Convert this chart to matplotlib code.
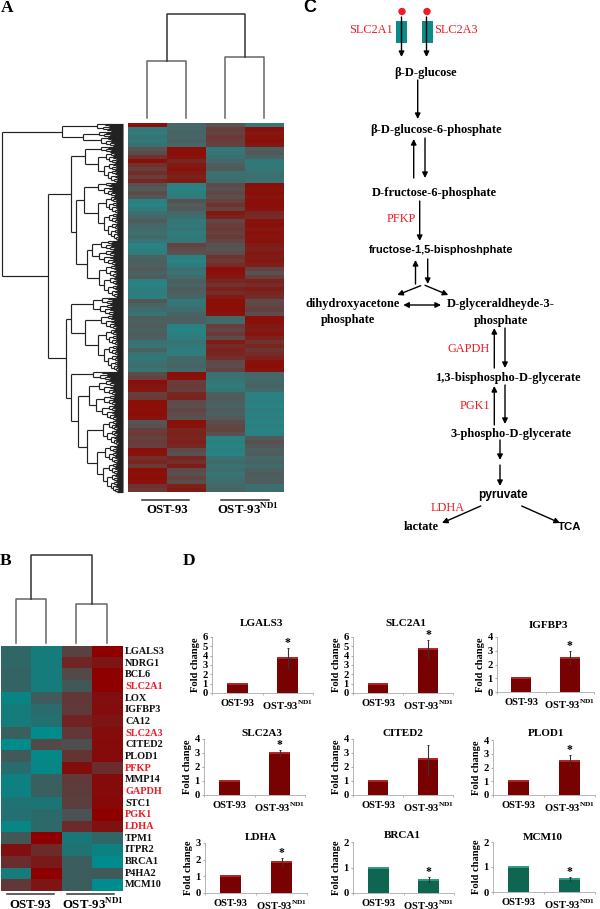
import numpy as np
import matplotlib
matplotlib.use("Agg")
import matplotlib.pyplot as plt
from matplotlib.collections import LineCollection
from matplotlib.colors import LinearSegmentedColormap
from matplotlib.patches import Rectangle, Circle

plt.rcParams["font.family"] = ["Liberation Serif", "DejaVu Sans"]
plt.rcParams["mathtext.fontset"] = "custom"
plt.rcParams["mathtext.bf"] = "Liberation Serif:bold"
plt.rcParams["mathtext.rm"] = "Liberation Serif:bold"

W, H = 600, 909
ND1 = "OST-93$^{\\mathbf{ND1}}$"

# panel A heatmap, one row per 4 px band, four samples
heat_a = [
    [3, -1, 0, -2], [-2, -1, 1, 3], [-2.2, -.8, .8, 2.6], [-1.8, -1, 1.2, 2.8],
    [-2, -.6, 1, 3], [-1.5, -1, .8, 2.5], [0, 3, -2, -.5], [.5, 3, -1.8, -.2],
    [1.5, 2.8, -1.5, -.8], [3, 2, -1, -2], [1.5, 2.5, -.5, -2], [1, 2.8, -.2, -2],
    [1.8, 2.5, -1.5, -1.6], [1, 2.2, -1.5, -1.5], [2, 2.5, -1.2, -1.8], [.2, -2.5, .5, 3],
    [-.2, -2.6, .2, 2.8], [.5, -2.4, .6, 3], [0, -2.2, .3, 2.7], [-2.5, .2, .8, 3],
    [-2.6, -.4, 1.5, 3], [-2.2, -.2, .8, 2.8], [-1.5, -1, 2.6, 2], [-1, -1.4, 2.2, 1.8],
    [-.3, -2, .6, 2.8], [-1, -2, 1, 3], [-1.2, -1.8, 1.2, 2.6], [-1.5, -2.2, .8, 2.9],
    [-1, -2, 1.2, 2.7], [-1.8, -1.9, .6, 2.8], [-2.6, .8, .2, 2.5], [-2.5, .4, 0, 2.2],
    [-2.2, .2, .4, 2.6], [-.8, -2.5, 1.5, 2.4], [-.4, -2.7, 1.2, 2.6], [-.6, -2.3, 1.8, 2.3],
    [-.2, -1.5, 3, .8], [-.8, -1.7, 2.9, .2], [-.3, -1.2, 2.6, .9], [-2.5, -.5, 2, 2.2],
    [-2.6, -.8, 1.5, 1.8], [-2.4, -.3, 2.2, 2.4], [-2.3, -.6, 1.8, 2], [-2.4, -.9, 2.5, 1.8],
    [0, -2, 3, .5], [-.8, -1.8, 3, .6], [-1.2, -1.3, 3, .9], [-1.8, -.8, 2.8, .4],
    [-.4, -.5, -1, 3], [-.6, -.6, -1.2, 2.9], [-.3, -2.5, 1, 2.6], [-.7, -2.7, .6, 2.4],
    [-.4, -2.5, 1.2, 2.8], [-.6, -2.2, .5, 2.2], [-1.5, -1.8, 2.4, 1.5], [-1.8, -2, 1.8, 2],
    [-.6, -2.3, 2.2, 1.4], [-1.6, -2.2, 2, 1.8], [-2, -1, 1.6, 2.2], [-1.6, -1.1, .5, 2.9],
    [-1.4, -.8, .4, 3], [-1.8, -1.2, .8, 2.8], [.5, 3, -1.5, -1], [.8, 2.9, -1.6, -1.2],
    [3, 1, -2, -1], [2.7, 1.2, -2.2, -.8], [2.6, 1, -1.8, -1.2], [1, 2, -.5, -2.5],
    [1.2, 2.1, -.3, -2.5], [3, .5, -.5, -2.4], [3, .3, -.8, -2.6], [2.9, .7, -.3, -2.3],
    [3, .4, -.6, -2.5], [2.8, .2, -.2, -2.4], [0, 3, .4, -2.6], [.2, 2.8, .6, -2.4],
    [1, 2, .8, -2.6], [1.2, 2.2, .2, -2.5], [.8, 2, -2.6, -.2], [1.1, 2.3, -2.4, .3],
    [.9, 1.9, -2.7, -.1], [3, .5, -2.4, -.6], [2.8, .2, -2.6, -.4], [1.6, 2, -1.6, -1],
    [2, 1.6, -1.2, -.8], [1.2, 2.4, -1.6, -1.2], [3, .5, -1.4, -.6], [2.9, .3, -1.8, -.3],
    [3, .7, -1.5, -.5], [2.8, .4, -1.3, -.4], [1.5, 2.2, -1, -1.5], [1.2, 2.6, -.8, -1.4],
]

# panel B heatmap
genes_b = ["LGALS3", "NDRG1", "BCL6", "SLC2A1", "LOX", "IGFBP3", "CA12", "SLC2A3",
           "CITED2", "PLOD1", "PFKP", "MMP14", "GAPDH", "STC1", "PGK1", "LDHA",
           "TPM1", "ITPR2", "BRCA1", "P4HA2", "MCM10"]
red_genes = ["SLC2A1", "SLC2A3", "PFKP", "GAPDH", "PGK1", "LDHA"]
heat_b = [
    [-1.2, -2.2, .5, 3], [-1.2, -2.2, 1.6, 2.2], [-1, -2.2, .2, 3], [-1, -2.2, -.4, 3],
    [-2.6, -.6, .9, 2.4], [-2.2, -1.4, .8, 2.5], [-2.2, -1.6, 1.7, 2.2], [-.8, -3, .9, 2.5],
    [-3, .2, 0, 2.6], [-.5, -2.8, 1, 2.6], [-1.5, -2.7, 2.5, 1.3], [-2.5, -.8, .8, 2.6],
    [-2.5, -.8, .7, 2.6], [-1.8, -1.9, .6, 2.7], [-1.6, -1.3, -.2, 3], [-2.7, -1.3, 1.4, 2.3],
    [-.4, 3, -2, -1.2], [2.4, 1.4, -1.8, -2.5], [1.3, 2, -.7, -3], [-2.2, 3, -.7, -.5],
    [.9, 2.2, -.7, -3],
]

# column dendrogram heights: left merge, right merge, root
col_tree_a = [57, 61, 104]
col_tree_b = [44, 39, 88]

# row dendrogram of panel A as (height, child, child); (height, n) is a cluster of n rows
row_tree_a = (121.5,
              (61, (26, 8), (40, (24, 6), (22, 9))),
              (75, (52, (38, (22, 6), (25, 30)),
                    (47, (39, (25, 14), (25, 44)), (36, (31, 25), (24, 32)))),
               (57, (52, (30, 18), (38, (22, 14), (25, 42))),
                (52, (30, 9), (45, (34, 40), (36, (20, 25), (26, 47)))))))

# panel D
bar_titles = ["LGALS3", "SLC2A1", "IGFBP3", "SLC2A3", "CITED2", "PLOD1", "LDHA", "BRCA1", "MCM10"]
bar_groups = ["OST-93", ND1]
bar_values = [[1, 3.75], [1, 4.75], [1, 2.5], [1, 3.0], [1, 2.55], [1, 2.5], [1, 1.85], [1, .52], [1, .52]]
bar_errors = [1.05, .95, .47, .2, 1.05, .42, .25, .1, .08]
bar_ymax = [6, 6, 4, 4, 4, 4, 3, 2, 2]
bar_star = [True, True, True, True, False, True, True, True, True]
bar_color = ["up"] * 7 + ["down"] * 2
bar_boxes = [(212, 313, 693, 637), (353, 453, 693, 637), (497, 594, 692, 637),
             (204, 305, 795, 739), (353, 453, 795, 739), (493, 595, 795, 740),
             (205, 307, 893, 843), (353, 454, 893, 842), (493, 595, 892, 842)]
title_xy = [(262, 623), (406, 623), (548, 625), (262, 733), (403, 733), (546, 734),
            (261, 837), (402, 836), (543, 837)]
fill = {"up": ("#780202", "#b32222"), "down": ("#0f6650", "#2f9a80")}

heat_cmap_a = LinearSegmentedColormap.from_list("a", ["#23898a", "#565656", "#8b0f08"])
heat_cmap_b = LinearSegmentedColormap.from_list("b", ["#008c8c", "#4f4f4f", "#8e0000"])


def px_axes(fig, left, right, bottom, top, **kw):
    return fig.add_axes([left / W, 1 - bottom / H, (right - left) / W, (bottom - top) / H], **kw)


def cluster(n, d):
    if n == 1:
        return 0
    k = max(1, int(round(n * .38)))
    return (d, cluster(k, d * .7), cluster(n - k, d * .78))


def expand(node):
    if len(node) == 2:
        return cluster(node[1], node[0])
    return (node[0], expand(node[1]), expand(node[2]))


def tree_segments(node, first, segs, base):
    # returns row centre, height, next free row
    if node == 0:
        return first + .5, 0, first + 1
    y1, d1, nxt = tree_segments(node[1], first, segs, base)
    y2, d2, nxt = tree_segments(node[2], nxt, segs, base)
    d = node[0]
    segs.append([(base - d, y1), (base - d, y2)])
    segs.append([(base - d, y1), (base - d1, y1)])
    segs.append([(base - d, y2), (base - d2, y2)])
    return (y1 + y2) / 2, d, nxt


def column_tree(ax, xs, base, heights, color):
    l, r, root = heights
    xl, xr = (xs[0] + xs[1]) / 2, (xs[2] + xs[3]) / 2
    ax.plot([xs[0], xs[0], xs[1], xs[1]], [base, base - l, base - l, base], color=color, lw=1.1)
    ax.plot([xs[2], xs[2], xs[3], xs[3]], [base, base - r, base - r, base], color=color, lw=1.1)
    ax.plot([xl, xl, xr, xr], [base - l, base - root, base - root, base - r], color="#333333", lw=1.1)


def arrow(ax, start, tip, lw=1.0, size=8, style="-|>"):
    ax.annotate("", xy=tip, xytext=start,
                arrowprops=dict(arrowstyle=style, color="black", lw=lw, mutation_scale=size,
                                shrinkA=0, shrinkB=0))


fig = plt.figure(figsize=(W / 100, H / 100), dpi=100, facecolor="white")

# heatmaps
ax_a = px_axes(fig, 127.5, 283.5, 492, 123)
ax_a.imshow(np.array(heat_a), cmap=heat_cmap_a, vmin=-3, vmax=3, aspect="auto", interpolation="nearest")
ax_a.axis("off")
ax_b = px_axes(fig, .5, 122.5, 890.7, 645.5)
ax_b.imshow(np.array(heat_b), cmap=heat_cmap_b, vmin=-3, vmax=3, aspect="auto", interpolation="nearest")
ax_b.axis("off")

# overlay in pixel space for dendrograms, labels and the pathway
ov = fig.add_axes([0, 0, 1, 1], facecolor="none", zorder=5)
ov.set_xlim(0, W)
ov.set_ylim(H, 0)
ov.axis("off")

column_tree(ov, [147, 186, 225, 264], 118, col_tree_a, "#666666")
column_tree(ov, [15.7, 46, 76.3, 107], 642.7, col_tree_b, "#666666")

segs = []
tree_segments(expand(row_tree_a), 123, segs, 123)
ov.add_collection(LineCollection(segs, colors="#222222", linewidths=.85))

for label, x, y in [("A", 7, 8), ("B", 6, 561), ("D", 189, 561)]:
    ov.text(x, y, label, fontsize=12.5, fontweight="bold", ha="center", va="center")
ov.text(310, 8, "C", fontsize=13, fontweight="bold", ha="center", va="center", family="Liberation Sans")

# group bars and labels under the heatmaps
for x0, x1, y in [(142, 189.3, 500), (221.3, 268.7, 500), (6.7, 54, 894), (66.7, 114, 894)]:
    ov.plot([x0, x1], [y, y], color="#333333", lw=1.1)
for text, x, y in [("OST-93", 166.7, 510), (ND1, 247.7, 510), ("OST-93", 30, 905), (ND1, 93, 905)]:
    ov.text(x, y, text, fontsize=9.2, fontweight="bold", ha="center", va="center")

for i, gene in enumerate(genes_b):
    ov.text(125, 645.5 + (i + .5) * 245.2 / len(genes_b), gene, fontsize=7.4, fontweight="bold",
            color="#ee1c25" if gene in red_genes else "#111111", va="center", ha="left")

# pathway, panel C
for x0 in (396.3, 421.7):
    ov.add_patch(Rectangle((x0, 21), 11, 22, facecolor="#0d8a8a", edgecolor="none"))
for x0 in (402, 427):
    ov.add_patch(Circle((x0, 11.5), 3.7, facecolor="#ee1c25", edgecolor="none"))
for x0 in (401.5, 426.5):
    arrow(ov, (x0, 17), (x0, 57))

pathway_bold = [("β-D-glucose", 426, 73), ("β-D-glucose-6-phosphate", 436, 130),
                ("D-fructose-6-phosphate", 434.7, 193), ("dihydroxyacetone", 352.3, 303.5),
                ("phosphate", 348.3, 320), ("D-glyceraldheyde-3-", 500.7, 304),
                ("phosphate", 500.7, 321), ("1,3-bisphospho-D-glycerate", 507.7, 378.3),
                ("3-phospho-D-glycerate", 510.7, 434), ("lactate", 421, 527)]
for text, x, y in pathway_bold:
    ov.text(x, y, text, fontsize=8.9, fontweight="bold", ha="center", va="center")
for text, x, y, size in [("fructose-1,5-bisphoshphate", 441, 250, 7.9), ("pyruvate", 502.7, 495, 8.6),
                         ("TCA", 570, 527, 8.2)]:
    ov.text(x, y, text, fontsize=size, fontweight="bold", ha="center", va="center", family="Liberation Sans")
for text, x, y in [("SLC2A1", 371.3, 30), ("SLC2A3", 456.3, 30), ("PFKP", 401, 219), ("GAPDH", 468.3, 349),
                   ("PGK1", 474.7, 405.7), ("LDHA", 448, 508)]:
    ov.text(x, y, text, fontsize=8.8, color="#ee1c25", ha="center", va="center")

path_arrows = [((417.7, 80), (417.7, 119)), ((413.7, 178), (413.7, 139)), ((425, 138), (425, 178)),
               ((419.7, 201), (419.7, 241)), ((415.5, 284), (415.5, 260)), ((427.7, 259), (427.7, 284)),
               ((420.7, 285.7), (397.3, 295)), ((425, 285.3), (448.3, 295)),
               ((494.3, 368), (494.3, 328)), ((505, 328), (505, 368)),
               ((494.3, 425), (494.3, 386)), ((505, 385), (505, 424)),
               ((500, 440), (500, 460)), ((500, 465), (500, 486)),
               ((480.7, 506), (442, 523)), ((521.7, 506), (560, 523))]
for start, tip in path_arrows:
    arrow(ov, start, tip)
arrow(ov, (403.3, 305), (441, 305), style="<|-|>")

# bar charts, panel D
for i, name in enumerate(bar_titles):
    left, right, bottom, top = bar_boxes[i]
    ax = px_axes(fig, left, right, bottom, top, facecolor="none")
    dark, light = fill[bar_color[i]]
    xs = np.arange(2)
    vals = bar_values[i]
    ax.bar(xs, vals, width=.41, color=dark, edgecolor="none", zorder=2)
    ax.hlines(vals, xs - .205, xs + .205, color=light, lw=1.4, zorder=3)
    ax.errorbar([1], [vals[1]], yerr=[bar_errors[i]], color="#333333", lw=.8, capsize=1, capthick=.7,
                zorder=4, clip_on=False)
    ax.set_xlim(-.5, 1.5)
    ax.set_ylim(0, bar_ymax[i])
    ax.set_yticks(range(bar_ymax[i] + 1))
    ax.set_xticks(xs)
    ax.set_xticklabels(bar_groups, fontsize=7.6, fontweight="bold")
    ax.set_xticks([-.5, .5, 1.5], minor=True)
    ax.tick_params(axis="x", which="major", length=0, pad=4.5)
    ax.tick_params(axis="x", which="minor", length=1.5, color="#aaaaaa")
    ax.tick_params(axis="y", length=1.5, color="#aaaaaa", labelsize=7.6, pad=1.5)
    for lab in ax.get_yticklabels():
        lab.set_fontweight("bold")
    for side in ("top", "right"):
        ax.spines[side].set_visible(False)
    for side in ("left", "bottom"):
        ax.spines[side].set_color("#b5b5b5")
        ax.spines[side].set_linewidth(.7)
    ax.set_ylabel("Fold change", fontsize=7.6, fontweight="bold", labelpad=1.5)
    if bar_star[i]:
        ax.annotate("*", (1, vals[1] + bar_errors[i]), xytext=(0, 3.5), textcoords="offset points",
                    ha="center", va="center", fontsize=8.5, fontweight="bold")
    ov.text(title_xy[i][0], title_xy[i][1], name, fontsize=8, fontweight="bold", ha="center", va="center")

fig.savefig("out.png", dpi=100, facecolor="white")
